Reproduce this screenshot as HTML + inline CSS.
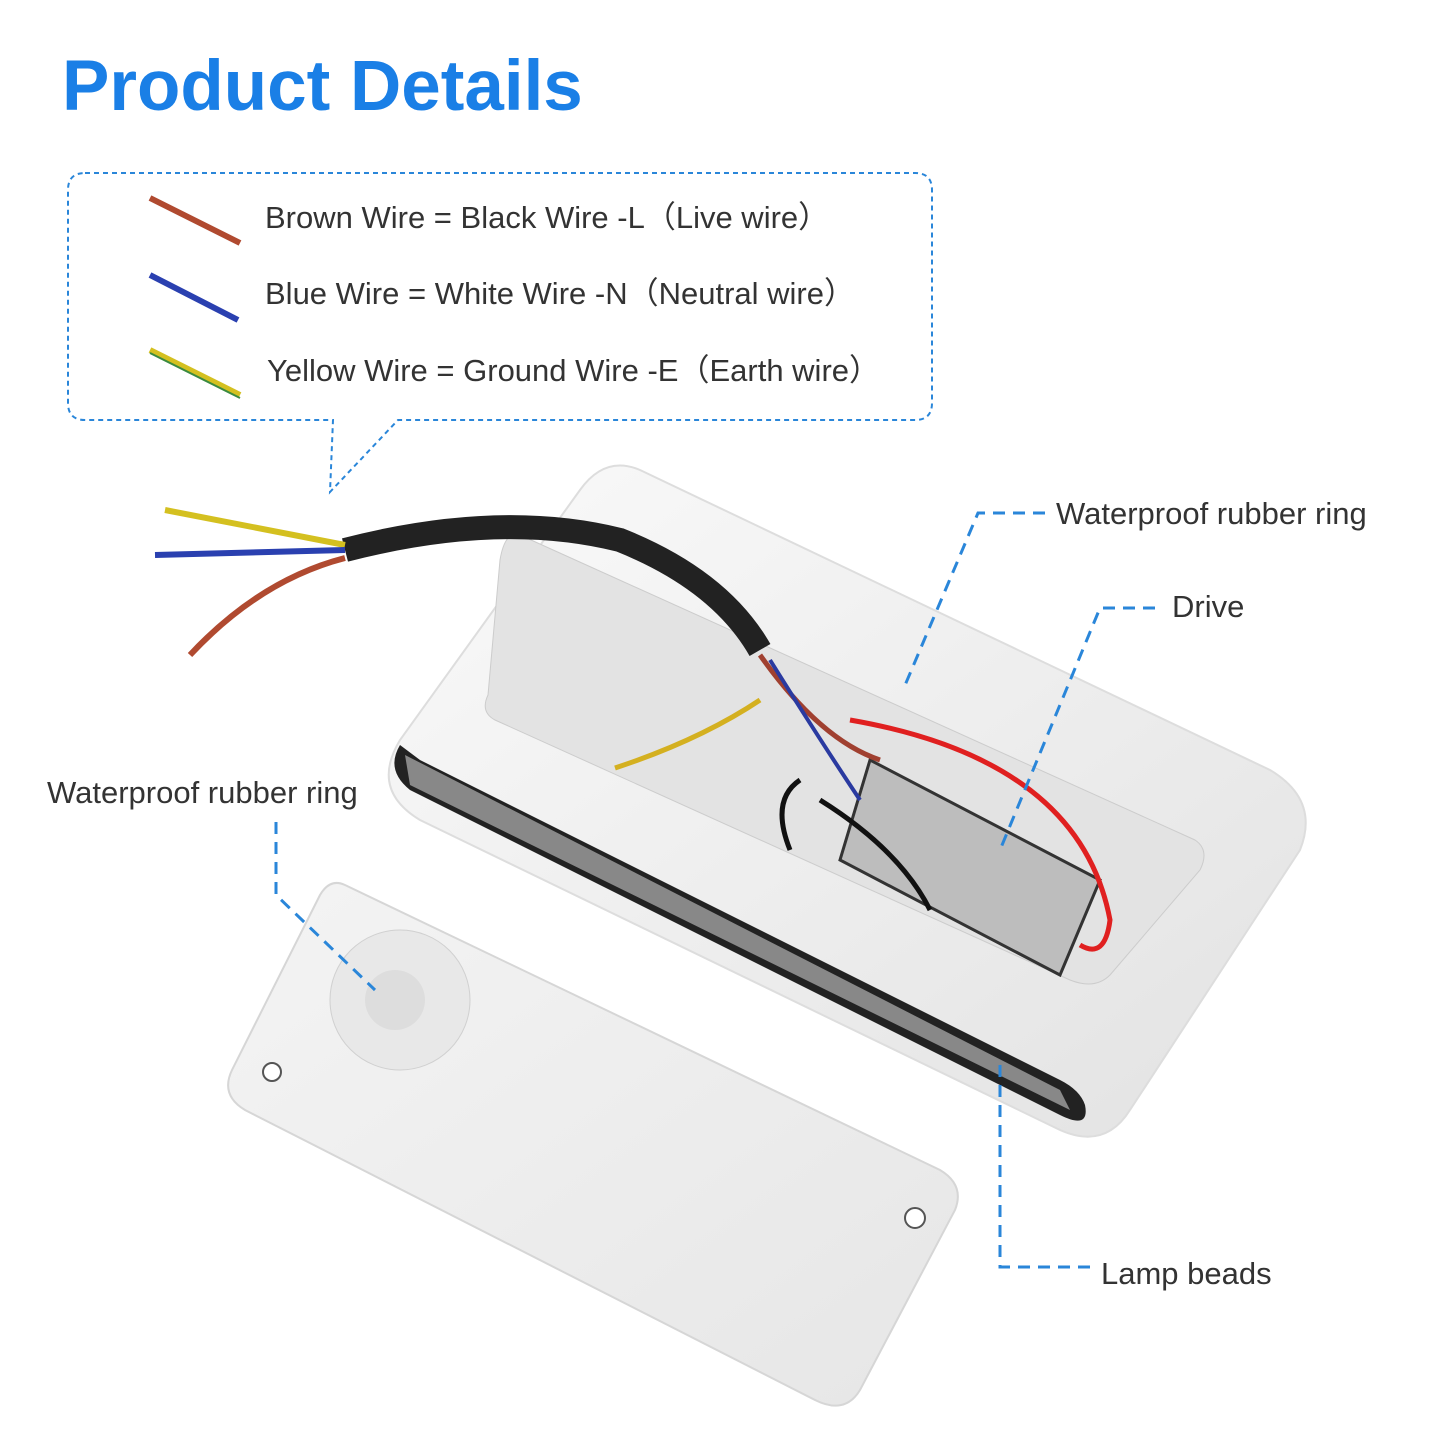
<!DOCTYPE html>
<html><head><meta charset="utf-8"><style>
body{margin:0;background:#fff;}
svg{display:block}
text{font-family:"Liberation Sans",sans-serif;}
</style></head><body>
<svg width="1445" height="1445" viewBox="0 0 1445 1445" xmlns="http://www.w3.org/2000/svg">
<defs>
<linearGradient id="lid" x1="0" y1="0" x2="1" y2="1"><stop offset="0" stop-color="#f4f4f4"/><stop offset="1" stop-color="#e6e6e6"/></linearGradient>
<linearGradient id="body" x1="0" y1="0" x2="1" y2="1"><stop offset="0" stop-color="#fafafa"/><stop offset="1" stop-color="#e2e2e2"/></linearGradient>
</defs>
<text x="62" y="110" font-size="71" font-weight="bold" fill="#1a7fe6">Product Details</text>
<path d="M85 173 H915 Q932 173 932 190 V403 Q932 420 915 420 H398 L330 492 L333 420 H85 Q68 420 68 403 V190 Q68 173 85 173 Z" fill="none" stroke="#2a86d9" stroke-width="2" stroke-dasharray="5,4"/>
<line x1="150" y1="198" x2="240" y2="243" stroke="#b04a30" stroke-width="6"/>
<line x1="150" y1="275" x2="238" y2="320" stroke="#2a40b0" stroke-width="6"/>
<line x1="150" y1="350" x2="240" y2="395" stroke="#d4c020" stroke-width="6"/>
<line x1="150" y1="353" x2="240" y2="398" stroke="#3a8a40" stroke-width="2"/>
<g font-size="31" fill="#333">
<text x="265" y="228">Brown Wire = Black Wire -L（Live wire）</text>
<text x="265" y="304">Blue Wire = White Wire -N（Neutral wire）</text>
<text x="267" y="381">Yellow Wire = Ground Wire -E（Earth wire）</text>
</g>
<path d="M640 470 L1270 770 Q1320 800 1300 850 L1130 1110 Q1105 1150 1060 1130 L420 820 Q370 790 400 740 L580 490 Q605 455 640 470 Z" fill="url(#body)" stroke="#ddd" stroke-width="2"/>
<path d="M520 535 L1195 840 Q1210 850 1200 870 L1110 975 Q1095 990 1070 980 L495 720 Q480 712 488 695 L500 560 Q505 530 520 535 Z" fill="#e3e3e3" stroke="#ccc"/>
<path d="M400 745 Q385 770 410 790 L1060 1115 Q1090 1130 1085 1105 Q1080 1090 1060 1080 L420 760 Z" fill="#222"/>
<path d="M405 755 L1060 1090 L1070 1110 L410 785 Z" fill="#888"/>
<path d="M870 760 L1100 880 L1060 975 L840 860 Z" fill="#bdbdbd" stroke="#333" stroke-width="3"/>
<path d="M850 720 Q1080 760 1110 920 Q1105 960 1080 945" fill="none" stroke="#e02020" stroke-width="5"/>
<path d="M345 550 Q500 510 620 540 Q720 580 760 650" fill="none" stroke="#222" stroke-width="24"/>
<path d="M760 655 Q820 740 880 760" fill="none" stroke="#a04030" stroke-width="5"/>
<path d="M770 660 Q820 740 860 800" fill="none" stroke="#2a3aa0" stroke-width="4"/>
<path d="M760 700 Q700 740 615 768" fill="none" stroke="#d4b020" stroke-width="5"/>
<path d="M800 780 Q770 800 790 850 M820 800 Q900 850 930 910" fill="none" stroke="#111" stroke-width="5"/>
<path d="M345 545 L165 510" stroke="#d4c020" stroke-width="6"/>
<path d="M345 550 L155 555" stroke="#2a40b0" stroke-width="6"/>
<path d="M345 558 Q260 580 190 655" fill="none" stroke="#b04a30" stroke-width="6"/>
<path d="M345 885 L940 1170 Q965 1185 955 1210 L860 1390 Q845 1415 815 1400 L245 1110 Q220 1095 232 1070 L320 895 Q330 878 345 885 Z" fill="url(#lid)" stroke="#d6d6d6" stroke-width="2"/>
<circle cx="400" cy="1000" r="70" fill="#e8e8e8" stroke="#d0d0d0"/>
<circle cx="395" cy="1000" r="30" fill="#ddd"/>
<circle cx="272" cy="1072" r="9" fill="#fff" stroke="#555" stroke-width="2"/>
<circle cx="915" cy="1218" r="10" fill="#fff" stroke="#555" stroke-width="2"/>
<g fill="none" stroke="#2a86d9" stroke-width="3" stroke-dasharray="12,8">
<path d="M1045 513 H978 L903 690"/>
<path d="M1155 608 H1100 L1000 850"/>
<path d="M276 822 V895 L375 990"/>
<path d="M1000 1065 V1267 H1090"/>
</g>
<g font-size="31" fill="#333">
<text x="1056" y="524">Waterproof rubber ring</text>
<text x="1172" y="617">Drive</text>
<text x="47" y="803">Waterproof rubber ring</text>
<text x="1101" y="1284">Lamp beads</text>
</g>
</svg>
</body></html>
